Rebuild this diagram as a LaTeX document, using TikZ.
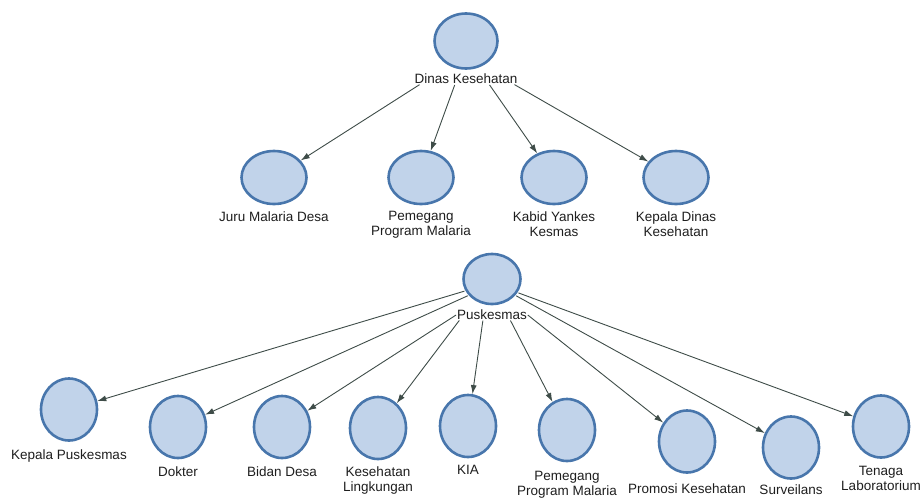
\documentclass[tikz,border=0pt]{standalone}
\usepackage{fontspec}
\setmainfont{Liberation Sans}
\usetikzlibrary{shapes.geometric,positioning,arrows.meta}
\definecolor{bubfill}{RGB}{193,211,234}
\definecolor{bubline}{RGB}{72,118,172}
\definecolor{arrline}{RGB}{62,76,72}
\definecolor{txtgray}{RGB}{30,30,30}
\tikzset{
  bub/.style={ellipse,draw=bubline,fill=bubfill,line width=2.6pt,inner sep=0pt,minimum width=56pt,minimum height=62pt},
  bubwide/.style={bub,minimum width=65pt,minimum height=53pt},
  lbl/.style={inner sep=0pt,align=center,text=txtgray,font=\fontsize{13.5}{15}\selectfont},
  arr/.style={draw=arrline,line width=0.9pt,shorten <=1pt,-{Latex[length=9pt,width=6pt]}}
}
\begin{document}
\begin{tikzpicture}[x=1pt,y=-1pt]
\useasboundingbox (0,0) rectangle (920,498);
% dinas kesehatan and its row
\node[bub,minimum width=63pt,minimum height=55pt](dinas) at (466,41){};
\node[lbl,below=4pt of dinas](dinasl){Dinas Kesehatan};
\node[bubwide](jmd) at (274,177.5){};
\node[bubwide](ppm) at (421,177.5){};
\node[bubwide](kyk) at (554,177.5){};
\node[bubwide](kdk) at (676,177.5){};
\node[lbl,below=6pt of jmd](jmdl){Juru Malaria Desa};
\node[lbl,below=6pt of ppm](ppml){Pemegang\\Program Malaria};
\node[lbl,below=6pt of kyk](kykl){Kabid Yankes\\Kesmas};
\node[lbl,below=6pt of kdk](kdkl){Kepala Dinas\\Kesehatan};
\draw[arr]([xshift=6pt]dinasl.south west)--(jmd);
\draw[arr]([xshift=-11pt]dinasl.south)--(ppm);
\draw[arr]([xshift=23pt]dinasl.south)--(kyk);
\draw[arr]([xshift=-4pt]dinasl.south east)--(kdk);
% puskesmas and its row
\node[bub,minimum width=57pt,minimum height=50pt](pusk) at (492,279){};
\node[lbl,below=4pt of pusk](puskl){Puskesmas};
\node[bub](kp) at (69,409.5){};
\node[bub](dok) at (178,427){};
\node[bub](bd) at (282,427){};
\node[bub](kl) at (378,428){};
\node[bub](kia) at (468,426){};
\node[bub](ppmb) at (567,430){};
\node[bub](pk) at (687,441.5){};
\node[bub](surv) at (791,447.5){};
\node[bub](tl) at (881,426.5){};
\node[lbl,below=7.5pt of kp](kpl){Kepala Puskesmas};
\node[lbl,below=7pt of dok](dokl){Dokter};
\node[lbl,below=7pt of bd](bdl){Bidan Desa};
\node[lbl,below=6pt of kl](kll){Kesehatan\\Lingkungan};
\node[lbl,below=7pt of kia](kial){KIA};
\node[lbl,below=9pt of ppmb](ppmbl){Pemegang\\Program Malaria};
\node[lbl,below=9.5pt of pk](pkl){Promosi Kesehatan};
\node[lbl,below=4.5pt of surv](survl){Surveilans};
\node[lbl,below=7.5pt of tl](tll){Tenaga\\Laboratorium};
\draw[arr](pusk.204)--(kp);
\draw[arr](pusk.215)--(dok);
\draw[arr](puskl.west)--(bd);
\draw[arr]([xshift=3pt]puskl.south west)--(kl);
\draw[arr]([xshift=-9pt]puskl.south)--(kia);
\draw[arr]([xshift=18pt]puskl.south)--(ppmb);
\draw[arr](puskl.east)--(pk);
\draw[arr](pusk.325)--(surv);
\draw[arr](pusk.332)--(tl);
\end{tikzpicture}
\end{document}
